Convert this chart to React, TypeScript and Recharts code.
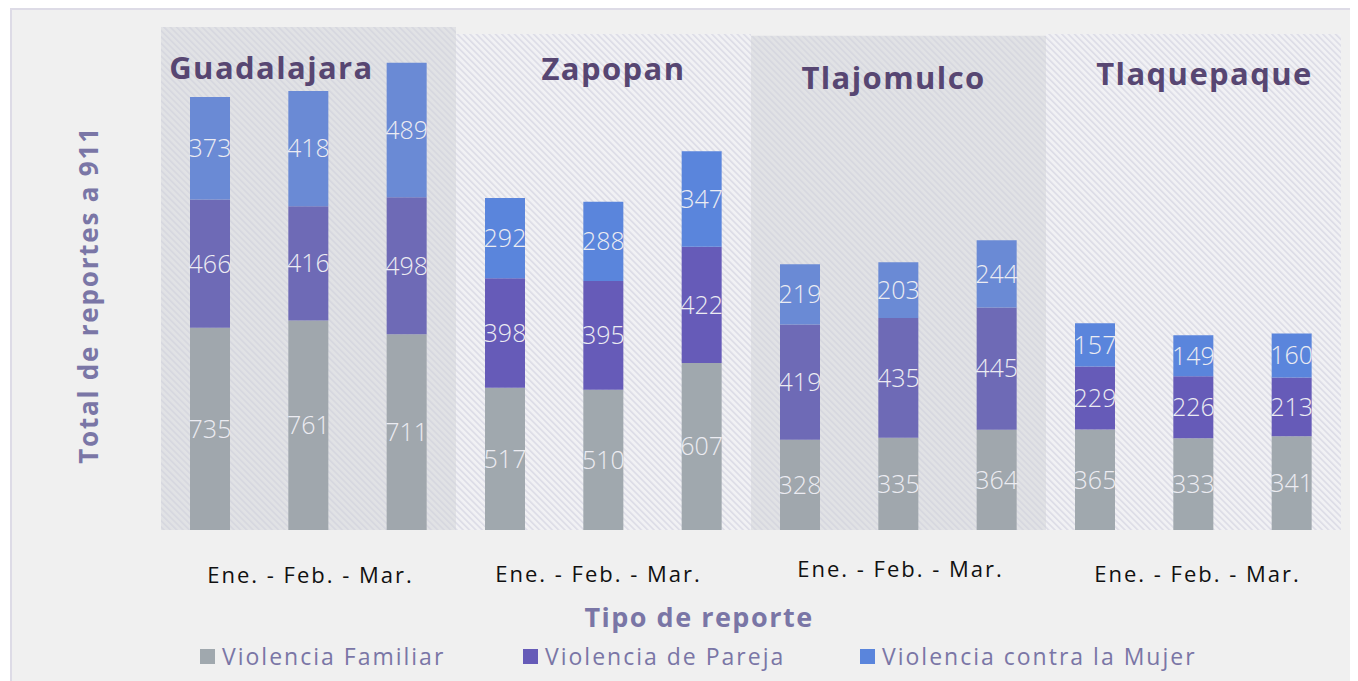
import React from 'react';
import { BarChart, Bar, XAxis, YAxis, ReferenceArea, LabelList, Cell, Legend } from 'recharts';

const municipios = ['Guadalajara', 'Zapopan', 'Tlajomulco', 'Tlaquepaque'];
const meses = ['Ene', 'Feb', 'Mar'];
const periodo = 'Ene. - Feb. - Mar.';

// orden: Guadalajara (Ene, Feb, Mar), Zapopan, Tlajomulco, Tlaquepaque
const familiar = [735, 761, 711, 517, 510, 607, 328, 335, 364, 365, 333, 341];
const pareja = [466, 416, 498, 398, 395, 422, 419, 435, 445, 229, 226, 213];
const mujer = [373, 418, 489, 292, 288, 347, 219, 203, 244, 157, 149, 160];

const panelTop = [1828, 1803, 1796, 1803];

const data = municipios.flatMap((m, i) =>
  meses.map((mes, j) => ({
    key: `${m}-${mes}`,
    panel: i,
    familiar: familiar[i * 3 + j],
    pareja: pareja[i * 3 + j],
    mujer: mujer[i * 3 + j],
  }))
);

const FONT = '"Open Sans", "Noto Sans", sans-serif';
const PURPLE = '#574672';
const MUTED = '#7a76a6';

// colores: paneles claros / paneles oscuros (el sombreado gris apaga el color)
const colors = {
  familiar: ['#a0a7ad', '#a0a8ae'],
  pareja: ['#6e6ab6', '#665bb8'],
  mujer: ['#6a8ad5', '#5a85dc'],
};

const titleShift = [
  { dx: -37, y: 67 },
  { dx: 10, y: 68 },
  { dx: -5, y: 77 },
  { dx: 11, y: 73 },
];
const tickShift = [
  { dx: 2, y: 574 },
  { dx: -5, y: 573 },
  { dx: 2, y: 568 },
  { dx: 4, y: 573 },
];

const PanelTitle = (props: any) => {
  const { viewBox, text, idx } = props;
  if (!viewBox) return null;
  const s = titleShift[idx];
  return (
    <text
      x={viewBox.x + viewBox.width / 2 + s.dx}
      y={s.y - 10}
      textAnchor="middle"
      dominantBaseline="central"
      fontFamily={FONT}
      fontWeight={700}
      fontSize={31}
      letterSpacing={1.4}
      fill={PURPLE}
    >
      {text}
    </text>
  );
};

const PeriodTick = (props: any) => {
  const { x, index } = props;
  if (index % 3 !== 1) return null;
  const s = tickShift[Math.floor(index / 3)];
  return (
    <text
      x={x + s.dx}
      y={s.y - 10}
      textAnchor="middle"
      dominantBaseline="central"
      fontFamily={FONT}
      fontSize={22}
      letterSpacing={2}
      fill="#111"
    >
      {periodo}
    </text>
  );
};

const legendItems = [
  { name: 'Violencia Familiar', color: colors.familiar[1], left: 188 },
  { name: 'Violencia de Pareja', color: colors.pareja[1], left: 511 },
  { name: 'Violencia contra la Mujer', color: colors.mujer[1], left: 848 },
];

const renderLegend = () => (
  <div style={{ position: 'relative', width: 1346, height: 30 }}>
    {legendItems.map((it) => (
      <div
        key={it.name}
        style={{
          position: 'absolute',
          left: it.left,
          top: 0,
          display: 'flex',
          alignItems: 'center',
          fontFamily: FONT,
          fontSize: 23,
          letterSpacing: 2,
          color: MUTED,
          whiteSpace: 'nowrap',
        }}
      >
        <span style={{ display: 'inline-block', width: 15, height: 15, background: it.color, marginRight: 7 }} />
        {it.name}
      </div>
    ))}
  </div>
);

const labelStyle = { fill: '#ececf2', fontSize: 25, fontWeight: 300, fontFamily: FONT };

export default function App() {
  return (
    <div
      style={{
        position: 'relative',
        marginLeft: 2,
        width: 1360,
        height: 680,
        border: '2px solid #dddbe6',
        background: '#f0f0f0',
        boxSizing: 'content-box',
      }}
    >
      <BarChart
        width={1346}
        height={670}
        data={data}
        margin={{ top: 17, right: 17, bottom: 90, left: 149 }}
        barSize={40}
      >
        <defs>
          <pattern id="hatchLight" width="4.5" height="4.5" patternUnits="userSpaceOnUse" patternTransform="rotate(-45)">
            <rect width="4.5" height="4.5" fill="#f1f1f4" />
            <rect width="1.6" height="4.5" fill="#dcdce6" />
          </pattern>
          <pattern id="hatchDark" width="4.5" height="4.5" patternUnits="userSpaceOnUse" patternTransform="rotate(-45)">
            <rect width="4.5" height="4.5" fill="#e1e2e5" />
            <rect width="1.6" height="4.5" fill="#d6d7df" />
          </pattern>
        </defs>
        {municipios.map((m, i) => (
          <ReferenceArea
            key={m}
            x1={`${m}-Ene`}
            x2={`${m}-Mar`}
            y1={0}
            y2={panelTop[i]}
            fill={i % 2 === 0 ? 'url(#hatchDark)' : 'url(#hatchLight)'}
            fillOpacity={1}
            stroke="none"
            ifOverflow="visible"
            label={<PanelTitle text={m} idx={i} />}
          />
        ))}
        <XAxis
          dataKey="key"
          axisLine={false}
          tickLine={false}
          interval={0}
          height={60}
          tick={<PeriodTick />}
        />
        <YAxis hide domain={[0, 1828]} />
        <Legend
          layout="horizontal"
          verticalAlign="middle"
          align="center"
          content={renderLegend}
          wrapperStyle={{ position: 'absolute', top: 630, left: 0, width: 1346, height: 30 }}
        />
        <Bar dataKey="familiar" name="Violencia Familiar" stackId="a" isAnimationActive={false}>
          {data.map((d) => (
            <Cell key={d.key} fill={colors.familiar[d.panel % 2]} />
          ))}
          <LabelList dataKey="familiar" position="center" style={labelStyle} />
        </Bar>
        <Bar dataKey="pareja" name="Violencia de Pareja" stackId="a" isAnimationActive={false}>
          {data.map((d) => (
            <Cell key={d.key} fill={colors.pareja[d.panel % 2]} />
          ))}
          <LabelList dataKey="pareja" position="center" style={labelStyle} />
        </Bar>
        <Bar dataKey="mujer" name="Violencia contra la Mujer" stackId="a" isAnimationActive={false}>
          {data.map((d) => (
            <Cell key={d.key} fill={colors.mujer[d.panel % 2]} />
          ))}
          <LabelList dataKey="mujer" position="center" style={labelStyle} />
        </Bar>
      </BarChart>
      <div
        style={{
          position: 'absolute',
          left: 687,
          top: 606,
          transform: 'translate(-50%, -50%)',
          fontFamily: FONT,
          fontWeight: 700,
          fontSize: 27,
          letterSpacing: 1.5,
          color: MUTED,
          whiteSpace: 'nowrap',
        }}
      >
        Tipo de reporte
      </div>
      <div
        style={{
          position: 'absolute',
          left: 76,
          top: 285,
          transform: 'translate(-50%, -50%) rotate(-90deg)',
          fontFamily: FONT,
          fontWeight: 700,
          fontSize: 26,
          letterSpacing: 1.8,
          color: MUTED,
          whiteSpace: 'nowrap',
        }}
      >
        Total de reportes a 911
      </div>
    </div>
  );
}
